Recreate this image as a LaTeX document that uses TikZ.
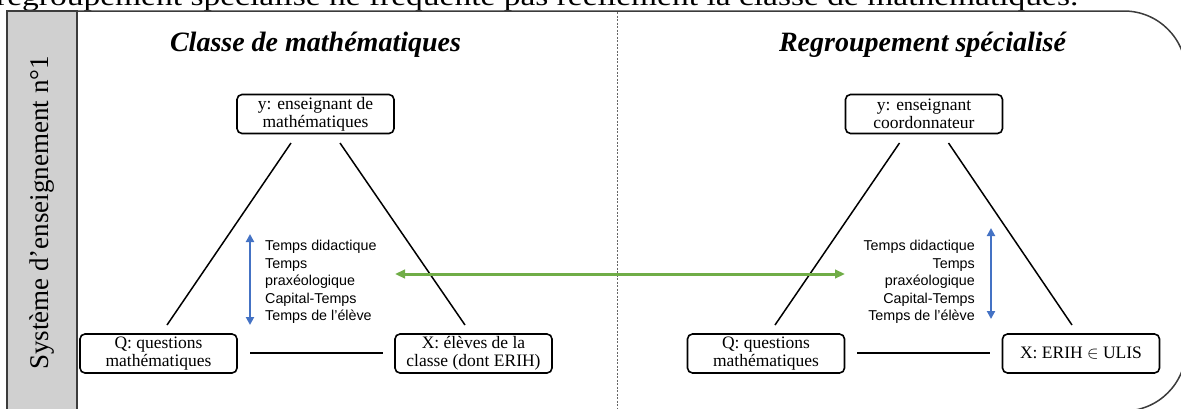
\documentclass[tikz,border=0pt]{standalone}
\usepackage{fontspec}
\setmainfont{Liberation Serif}
\newfontfamily\arialfont{Liberation Sans}
\usetikzlibrary{arrows.meta,calc}
\definecolor{frameC}{HTML}{3C3C3C}
\definecolor{grayfill}{HTML}{D0D0D0}
\definecolor{blueA}{HTML}{4472C4}
\definecolor{greenA}{HTML}{70AD47}
\begin{document}
\begin{tikzpicture}[x=1pt,y=-1pt,
  box/.style={draw=black, line width=1.6pt, rounded corners=5pt, align=center,
    inner sep=0pt, font=\fontsize{17.5}{18}\selectfont, minimum height=39pt, minimum width=157pt},
  tline/.style={draw=black, line width=1.5pt},
  title/.style={font=\fontsize{28}{30}\selectfont\bfseries\itshape},
  temps/.style={font=\arialfont\fontsize{14.3}{17.4}\selectfont, inner sep=0pt},
  bluearrow/.style={draw=blueA, line width=2.4pt, {Triangle[length=8pt,width=8pt]}-{Triangle[length=8pt,width=8pt]}},
  greenarrow/.style={draw=greenA, line width=3pt, {Triangle[length=10pt,width=8.5pt]}-{Triangle[length=10pt,width=8.5pt]}}
]
\useasboundingbox (0,0) rectangle (1181,408);
\clip (0,0) rectangle (1181,408);

% cut-off text above the frame
\node[anchor=base west, inner sep=0pt, font=\fontsize{27}{27}\selectfont] (toptext) at (-4,5)
  {\scalebox{1.24}[1]{regroupement spécialisé ne fréquente pas réellement la classe de mathématiques.}};

% frame
\draw[frameC, line width=1.5pt, rounded corners=62pt] (7,11) -- (1186,11) -- (1186,411) -- (7,411);
\draw[frameC, line width=1.5pt, fill=grayfill] (7,430) -- (7,11) -- (77,11) -- (77,430);
\node[rotate=90, inner sep=0pt, font=\fontsize{27}{27}\selectfont] (side) at (42,213) {Système d’enseignement n°1};

% separator
\coordinate (sepT) at (617,12);
\coordinate (sepB) at (617,408);
\draw[black!60, line width=0.8pt, dash pattern=on 2pt off 1.5pt] (sepT) -- (sepB);

% titles
\node[title] (t1) at (315.5,45) {Classe de mathématiques};
\node[title] (t2) at (922.5,45) {Regroupement spécialisé};

% left triangle
\node[box] (y1) at (315.5,114) {y: enseignant de\\mathématiques};
\node[box] (Q1) at (158.5,353.5) {Q: questions\\mathématiques};
\node[box] (X1) at (473.5,353.5) {X: élèves de la\\classe (dont ERIH)};
\coordinate (a1) at (167,325); \coordinate (a2) at (291,143);
\coordinate (b1) at (340,143); \coordinate (b2) at (465,325);
\coordinate (c1) at (250,353); \coordinate (c2) at (383,353);
\draw[tline] (a1) -- (a2);
\draw[tline] (b1) -- (b2);
\draw[tline] (c1) -- (c2);

% right triangle
\node[box] (y2) at (924,114) {y: enseignant\\coordonnateur};
\node[box] (Q2) at (766,353.5) {Q: questions\\mathématiques};
\node[box] (X2) at (1081,353.5) {X: ERIH $\in$ ULIS};
\coordinate (d1) at (775,325); \coordinate (d2) at (899.5,143);
\coordinate (e1) at (948.5,143); \coordinate (e2) at (1072,325);
\coordinate (f1) at (857,353); \coordinate (f2) at (990,353);
\draw[tline] (d1) -- (d2);
\draw[tline] (e1) -- (e2);
\draw[tline] (f1) -- (f2);

% time labels
\node[temps, align=left, anchor=west] (tl) at (265,282)
  {Temps didactique\\Temps\\praxéologique\\Capital-Temps\\Temps de l’élève};
\node[temps, align=right, anchor=east] (tr) at (975,282)
  {Temps didactique\\Temps\\praxéologique\\Capital-Temps\\Temps de l’élève};

% blue arrows
\coordinate (ba1) at (250,234); \coordinate (ba2) at (250,325);
\coordinate (bb1) at (991,228); \coordinate (bb2) at (991,319);
\draw[bluearrow] (ba1) -- (ba2);
\draw[bluearrow] (bb1) -- (bb2);

% green arrow
\coordinate (g1) at (395,274); \coordinate (g2) at (845,274);
\draw[greenarrow] (g1) -- (g2);
\end{tikzpicture}
\end{document}
